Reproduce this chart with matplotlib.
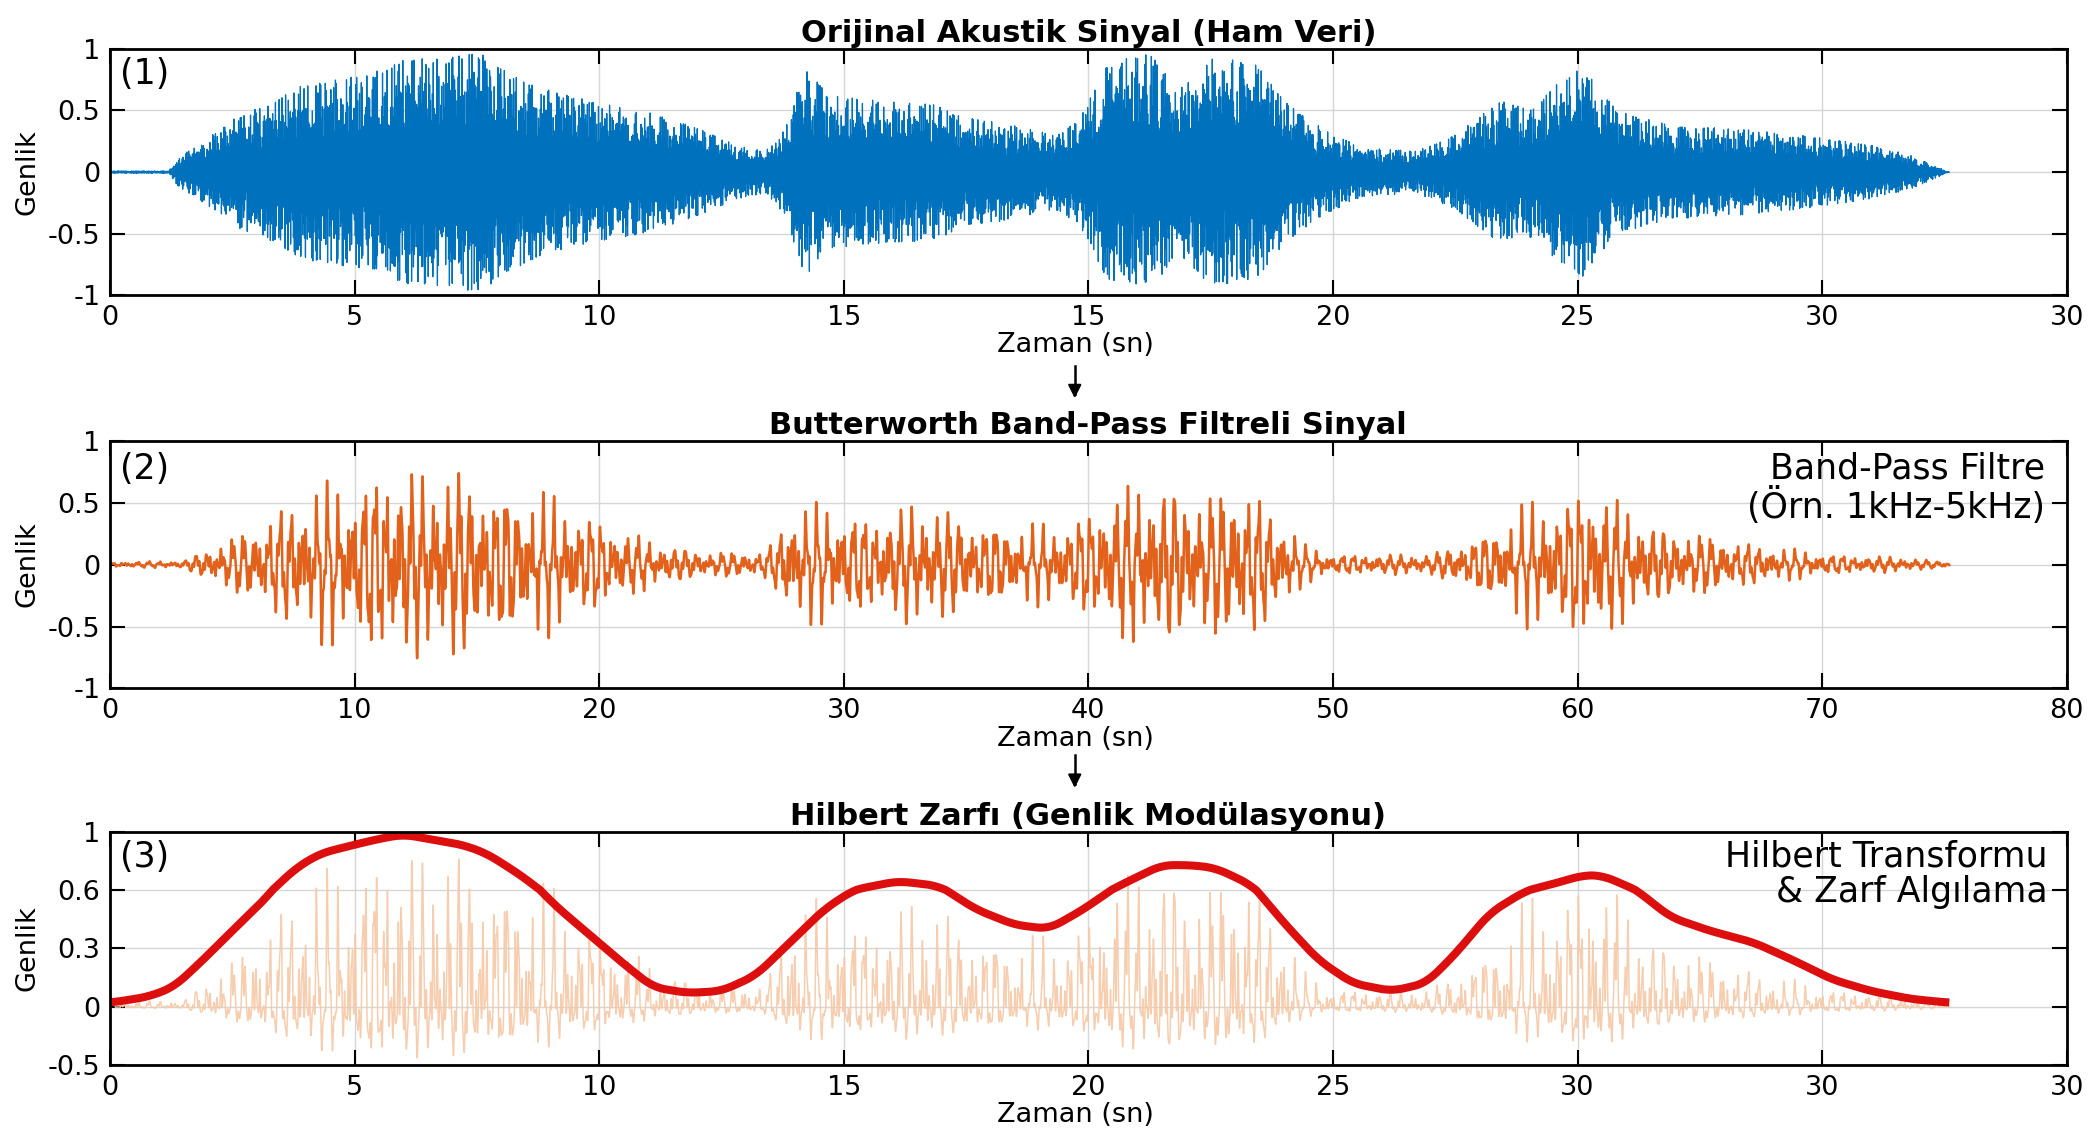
import numpy as np
import matplotlib.pyplot as plt

# (1) ham sinyalin zarf noktalari (sn, genlik)
t1_knots = [0, 1.2, 1.4, 1.9, 2.6, 3.2, 4.0, 4.6, 5.3, 6.0, 6.8, 7.6, 8.2, 8.7, 9.8, 10.9, 12.0, 12.8, 13.4, 13.8,
            14.2, 14.7, 15.8, 16.9, 17.4, 18.5, 19.3, 19.8, 20.4, 21.3, 21.8, 22.5, 23.4, 24.0, 24.8, 25.6, 26.7, 27.5,
            28.4, 29.0, 29.6, 30.1, 30.8, 31.9, 33.3, 34.6, 36.0, 36.8, 37.6]
env1_knots = [0.01, 0.01, 0.12, 0.25, 0.45, 0.55, 0.72, 0.75, 0.8, 0.92, 0.93, 0.98, 0.8, 0.7, 0.58, 0.5, 0.36, 0.22,
              0.17, 0.35, 0.85, 0.62, 0.58, 0.55, 0.45, 0.38, 0.3, 0.42, 0.88, 0.98, 0.65, 0.92, 0.9, 0.58, 0.35, 0.2,
              0.17, 0.3, 0.58, 0.52, 0.72, 0.85, 0.5, 0.38, 0.35, 0.3, 0.22, 0.14, 0.0]

# (2) filtreli sinyalin zarf noktalari
t2_knots = [0, 3.0, 3.7, 4.8, 5.9, 7.3, 8.6, 10.0, 11.4, 13.0, 14.1, 15.7, 17.4, 19.0, 20.1, 21.2, 22.8, 24.5, 26.7,
            27.2, 27.8, 29.4, 31.0, 32.7, 33.8, 35.4, 37.0, 38.7, 39.8, 41.4, 43.0, 44.7, 46.3, 48.0, 48.8, 50.0, 54.0,
            54.5, 55.6, 56.7, 57.8, 59.5, 60.3, 61.6, 63.3, 64.9, 66.6, 68.2, 70.4, 73.1, 75.2]
env2_knots = [0.02, 0.03, 0.1, 0.2, 0.3, 0.48, 0.6, 0.62, 0.8, 0.7, 0.75, 0.62, 0.55, 0.45, 0.35, 0.25, 0.15, 0.1, 0.1,
              0.2, 0.45, 0.45, 0.38, 0.47, 0.45, 0.35, 0.3, 0.3, 0.4, 0.6, 0.65, 0.55, 0.65, 0.35, 0.15, 0.08, 0.08,
              0.12, 0.2, 0.3, 0.45, 0.5, 0.65, 0.5, 0.3, 0.25, 0.18, 0.13, 0.08, 0.06, 0.02]

# (3) Hilbert zarfi
t3_knots = [0, 0.77, 1.3, 1.86, 2.5, 3.2, 3.8, 4.3, 5.0, 5.5, 6.0, 6.5, 7.2, 7.7, 8.4, 9.1, 9.8, 10.5, 11.1, 11.8,
            12.5, 13.2, 13.9, 14.6, 15.2, 16.1, 16.9, 17.7, 18.5, 19.2, 19.9, 20.7, 21.5, 22.1, 22.6, 23.3, 24.0, 24.7,
            25.4, 26.2, 26.9, 27.5, 28.2, 28.9, 29.6, 30.1, 30.5, 31.2, 31.9, 32.7, 33.6, 34.4, 35.2, 36.0, 36.8, 37.6]
zarf3_knots = [0.02, 0.05, 0.1, 0.23, 0.39, 0.56, 0.75, 0.85, 0.91, 0.95, 0.98, 0.95, 0.91, 0.85, 0.7, 0.52, 0.37,
               0.22, 0.1, 0.07, 0.08, 0.16, 0.33, 0.5, 0.6, 0.66, 0.63, 0.5, 0.42, 0.4, 0.5, 0.64, 0.77, 0.77, 0.75,
               0.64, 0.43, 0.24, 0.12, 0.08, 0.12, 0.27, 0.48, 0.59, 0.65, 0.7, 0.7, 0.6, 0.46, 0.39, 0.33, 0.24, 0.14,
               0.08, 0.04, 0.02]

xt1_labels = ['0', '5', '10', '15', '15', '20', '25', '30', '30']
xt2_labels = ['0', '10', '20', '30', '40', '50', '60', '70', '80']
xt3_labels = ['0', '5', '10', '15', '20', '25', '30', '30', '30']
yt3_values = [-0.5, 0, 0.3, 0.6, 1]
yt3_labels = ['-0.5', '0', '0.3', '0.6', '1']

mavi = '#0072BD'
turuncu = '#E2621B'
kirmizi = '#DD0E0E'
soluk = '#F6C9A6'

# ham sinyal: zarf x tasiyici, seyrek sivri tepeler
t1 = np.linspace(0, 37.6, 30000)
env1 = np.interp(t1, t1_knots, env1_knots)
tepe_f = [0.93, 1.27, 1.61, 1.97, 2.39, 2.83, 3.11]
spike = np.zeros_like(t1)
for i, f in enumerate(tepe_f):
    spike = np.maximum(spike, np.cos(2*np.pi*f*t1 + 0.7*i)**160)
    spike = np.maximum(spike, 0.55*np.cos(2*np.pi*(f*2.3)*t1 + 1.3*i)**120)
taban = (0.42 + 0.1*np.sin(2*np.pi*6.7*t1)*np.sin(2*np.pi*2.9*t1 + 1)
         + 0.08*np.sin(2*np.pi*13.1*t1)**2)
sig1 = env1 * (taban + (1 - taban)*spike) * np.sin(2*np.pi*53*t1)

# filtreli sinyal
t2 = np.linspace(0, 75.2, 16000)
env2 = np.interp(t2, t2_knots, env2_knots)
tas2 = (0.55*np.sin(2*np.pi*2.05*t2) + 0.35*np.sin(2*np.pi*2.6*t2 + 0.8)
        + 0.38*np.sin(2*np.pi*6.9*t2) + 0.2*np.sin(2*np.pi*11.3*t2))
sig2 = env2 * tas2 / np.abs(tas2).max() * 1.15

# Hilbert paneli: filtreli sinyal yarim zamanda, arka planda soluk
t3 = t2 / 2
sig3 = np.where(sig2 > 0, 1.1*sig2, 0.58*sig2)
tz = np.linspace(0, 37.6, 3000)
zarf = np.interp(tz, t3_knots, zarf3_knots)
k = np.ones(41) / 41
zarf = np.convolve(np.pad(zarf, 20, mode='edge'), k, mode='valid')


def y_fwd(y):
    y = np.asarray(y, dtype=float)
    out = np.interp(y, yt3_values, [0, 1, 2, 3, 4])
    out = np.where(y < -0.5, (y + 0.5)/0.5, out)
    out = np.where(y > 1, 4 + (y - 1)/0.4, out)
    return out


def y_inv(p):
    p = np.asarray(p, dtype=float)
    out = np.interp(p, [0, 1, 2, 3, 4], yt3_values)
    out = np.where(p < 0, -0.5 + p*0.5, out)
    out = np.where(p > 4, 1 + (p - 4)*0.4, out)
    return out


plt.rcParams['font.family'] = 'DejaVu Sans'
fig = plt.figure(figsize=(20.95, 11.36), dpi=100)
ax1 = fig.add_axes([0.0525, 0.740, 0.934, 0.217])
ax2 = fig.add_axes([0.0525, 0.394, 0.934, 0.218])
ax3 = fig.add_axes([0.0525, 0.0625, 0.934, 0.2055])


def stil(ax):
    ax.set_axisbelow(True)
    ax.grid(True, color='#d6d6d6', lw=1.0)
    ax.tick_params(direction='in', top=True, right=True, length=11, width=1.5, labelsize=19.5, pad=7)
    for s in ax.spines.values():
        s.set_linewidth(2)
    ax.set_xlabel('Zaman (sn)', fontsize=19.5, labelpad=1)
    ax.xaxis.label.set_x(0.4935)
    ax.set_ylabel('Genlik', fontsize=19.5, labelpad=5)


ax1.plot(t1, sig1, color=mavi, lw=0.9)
ax1.set_xlim(0, 40)
ax1.set_ylim(-1, 1)
ax1.set_xticks(np.arange(0, 41, 5), xt1_labels)
ax1.set_yticks([-1, -0.5, 0, 0.5, 1], ['-1', '-0.5', '0', '0.5', '1'])
ax1.set_title('Orijinal Akustik Sinyal (Ham Veri)', fontsize=22, fontweight='bold', pad=5)
ax1.text(0.005, 0.965, '(1)', transform=ax1.transAxes, fontsize=25, va='top', ha='left')
stil(ax1)

ax2.plot(t2, sig2, color=turuncu, lw=1.8)
ax2.set_xlim(0, 80)
ax2.set_ylim(-1, 1)
ax2.set_xticks(np.arange(0, 81, 10), xt2_labels)
ax2.set_yticks([-1, -0.5, 0, 0.5, 1], ['-1', '-0.5', '0', '0.5', '1'])
ax2.set_title('Butterworth Band-Pass Filtreli Sinyal', fontsize=22, fontweight='bold', pad=5)
ax2.text(0.005, 0.955, '(2)', transform=ax2.transAxes, fontsize=25, va='top', ha='left')
ax2.text(0.989, 0.955, 'Band-Pass Filtre\n(Örn. 1kHz-5kHz)', transform=ax2.transAxes, fontsize=25,
         va='top', ha='right', multialignment='right', linespacing=1.05)
stil(ax2)

ax3.set_yscale('function', functions=(y_fwd, y_inv))
ax3.plot(t3, sig3, color=soluk, lw=1.1, alpha=0.9)
ax3.plot(tz, zarf, color=kirmizi, lw=5.8, solid_capstyle='butt')
ax3.set_xlim(0, 40)
ax3.set_ylim(-0.5, 1)
ax3.set_xticks(np.arange(0, 41, 5), xt3_labels)
ax3.set_yticks(yt3_values, yt3_labels)
ax3.yaxis.set_minor_locator(plt.NullLocator())
ax3.set_title('Hilbert Zarfı (Genlik Modülasyonu)', fontsize=22, fontweight='bold', pad=5)
ax3.text(0.005, 0.965, '(3)', transform=ax3.transAxes, fontsize=25, va='top', ha='left')
ax3.text(0.99, 0.965, 'Hilbert Transformu\n& Zarf Algılama', transform=ax3.transAxes, fontsize=25,
         va='top', ha='right', multialignment='right', linespacing=1.05)
stil(ax3)

# paneller arasi akis oklari
for y0, y1 in [(0.678, 0.647), (0.335, 0.304)]:
    fig.add_artist(plt.Line2D([0.513, 0.513], [y0, y1 + 0.006], color='black', lw=1.8))
    ax1.annotate('', xy=(0.513, y1), xytext=(0.513, y1 + 0.012), xycoords='figure fraction',
                 arrowprops=dict(arrowstyle='-|>', color='black', lw=1.5, mutation_scale=20))

fig.savefig('out.png', dpi=100)
